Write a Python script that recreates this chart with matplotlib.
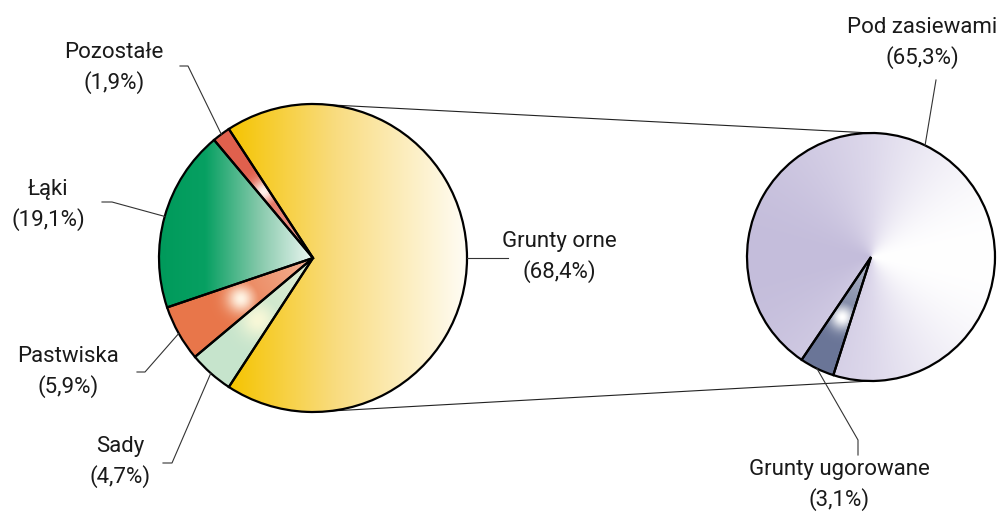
import numpy as np
import matplotlib.pyplot as plt
from matplotlib.colors import to_rgb

# dane: struktura użytków rolnych (%)
left_labels = ["Grunty orne", "Sady", "Pastwiska", "Łąki", "Pozostałe"]
left_values = [68.4, 4.7, 5.9, 19.1, 1.9]
right_labels = ["Grunty ugorowane", "Pod zasiewami"]
right_values = [3.1, 65.3]

plt.rcParams["font.family"] = ["Roboto", "DejaVu Sans"]

W, H = 997, 515
LC, LR = (313, 257), 154   # lewy wykres
RC, RR = (871, 258), 124   # prawy wykres


def pct(v):
    return f"({v:.1f}%)".replace(".", ",")


def ramp(t, stops):
    pos = [p for p, _ in stops]
    cols = np.array([to_rgb(c) for _, c in stops])
    return np.dstack([np.interp(t, pos, cols[:, i]) for i in range(3)])


def grid(c, r, n=500):
    xs = np.linspace(c[0] - r, c[0] + r, n)
    ys = np.linspace(c[1] - r, c[1] + r, n)
    return np.meshgrid(xs, ys)


def paint(ax, wedge, c, r, img):
    im = ax.imshow(img, extent=(c[0] - r, c[0] + r, c[1] - r, c[1] + r),
                   origin="lower", interpolation="bilinear", zorder=2)
    im.set_clip_path(wedge)


def mid_point(w, c, r):
    a = np.deg2rad((w.theta1 + w.theta2) / 2)
    return c[0] + r * np.cos(a), c[1] + r * np.sin(a)


def glow(X, Y, w, c, r, base, light, sigma, frac=0.54):
    hx, hy = mid_point(w, c, r * frac)
    d = np.hypot(X - hx, Y - hy)
    k1 = np.exp(-(d / sigma) ** 2)
    rr = np.hypot(X - c[0], Y - c[1]) / r
    k2 = np.clip(0.7 - rr, 0, 1) * 0.7
    k = np.maximum(k1, k2)[..., None]
    b = np.array(to_rgb(base))
    lt = np.array(to_rgb(light))
    return b + (lt - b) * k


fig = plt.figure(figsize=(W / 100, H / 100), dpi=100)
ax = fig.add_axes([0, 0, 1, 1])

edge = dict(edgecolor="black", linewidth=1.6, facecolor="none")

lw_, _ = ax.pie(left_values, startangle=360 * left_values[0] / 100 / 2,
                counterclock=False, center=LC, radius=LR, wedgeprops=edge)
rw_, _ = ax.pie(right_values, startangle=-124, center=RC, radius=RR,
                wedgeprops=edge)
for w in list(lw_) + list(rw_):
    w.set_zorder(3)

X, Y = grid(LC, LR)
# Grunty orne - gradient poziomy
w = lw_[0]
x0 = LC[0] + LR * np.cos(np.deg2rad(w.theta1))
t = (X - x0) / (LC[0] + LR - x0)
paint(ax, w, LC, LR, ramp(np.clip(t, 0, 1),
      [(0, "#f5c400"), (0.45, "#f9dc80"), (1, "#fffdf6")]))
# Łąki
w = lw_[3]
t = (X - (LC[0] - LR)) / LR
paint(ax, w, LC, LR, ramp(np.clip(t, 0, 1),
      [(0, "#009a5b"), (0.3, "#07a062"), (0.65, "#86c9ab"), (1, "#eef7f3")]))
# Sady, Pastwiska, Pozostałe
paint(ax, lw_[1], LC, LR, glow(X, Y, lw_[1], LC, LR, "#c6e4cc", "#f8f8d8", 18))
paint(ax, lw_[2], LC, LR, glow(X, Y, lw_[2], LC, LR, "#e8764a", "#fff4e4", 14))
paint(ax, lw_[4], LC, LR, glow(X, Y, lw_[4], LC, LR, "#e0604d", "#fff2ec", 12))

# prawy wykres
X, Y = grid(RC, RR)
ang = np.arctan2(Y - RC[1], X - RC[0])
t = (1 - np.cos(ang)) / 2
paint(ax, rw_[1], RC, RR, ramp(t, [(0, "#ffffff"), (0.5, "#ddd8eb"), (1, "#c4bddb")]))
paint(ax, rw_[0], RC, RR, glow(X, Y, rw_[0], RC, RR, "#6a7597", "#ffffff", 12))

# linie łączące
ax.plot([LC[0], RC[0]], [LC[1] + LR, RC[1] + RR], color="#222", lw=0.8, zorder=1)
ax.plot([LC[0], RC[0]], [LC[1] - LR, RC[1] - RR], color="#222", lw=0.8, zorder=1)

# etykiety i odnośniki
txt = dict(ha="center", va="center", fontsize=16, linespacing=1.5,
           color="#1a1a1a")
left_text = [(559, 258), (120, 53), (68, 143), (48, 310), (114, 447)]
left_elbow = [[(508, 257)], [(172, 52), (163, 52)], [(145, 143), (137, 143)],
              [(112, 313), (102, 313)], [(188, 449), (180, 449)]]
for w, lab, v, pos, elb in zip(lw_, left_labels, left_values, left_text, left_elbow):
    ax.text(*pos, f"{lab}\n{pct(v)}", **txt)
    pts = [mid_point(w, LC, LR)] + elb
    ax.plot(*zip(*pts), color="#333", lw=0.8, zorder=4)

right_text = [(839, 30), (922, 472)]
right_elbow = [[(858, 75), (858, 60)], [(936, 435)]]
for w, lab, v, pos, elb in zip(rw_, right_labels, right_values, right_text, right_elbow):
    ax.text(*pos, f"{lab}\n{pct(v)}", **txt)
    pts = [mid_point(w, RC, RR)] + elb
    ax.plot(*zip(*pts), color="#333", lw=0.8, zorder=4)

ax.set_xlim(0, W)
ax.set_ylim(0, H)
ax.set_aspect("auto")
ax.axis("off")

fig.savefig("out.png", dpi=100)
